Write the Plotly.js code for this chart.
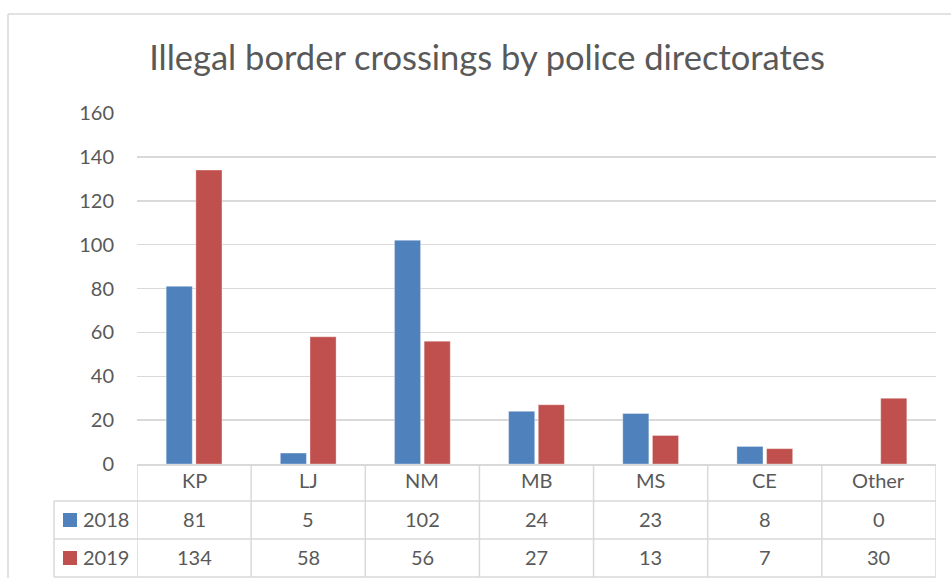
<!DOCTYPE html>
<html>
<head>
<meta charset="utf-8">
<script src="https://cdn.plot.ly/plotly-3.0.1.min.js"></script>
<style>html,body{margin:0;padding:0;background:#fff;}#chart{width:951px;height:578px;}</style>
</head>
<body>
<div id="chart"></div>
<script>
const categories = ["KP", "LJ", "NM", "MB", "MS", "CE", "Other"];
const seriesNames = ["2018", "2019"];
const values2018 = [81, 5, 102, 24, 23, 8, 0];
const values2019 = [134, 58, 56, 27, 13, 7, 30];
const yTicks = [0, 20, 40, 60, 80, 100, 120, 140, 160];

const W = 951, H = 578;
const L = 137, R = 936, T = 113, B = 464;
const pw = R - L, ph = B - T;
const colors = ["#4F81BD", "#C0504D"];
const grid = "#D9D9D9";
const txt = "#595959";
const FONT = "Lato, 'Open Sans', sans-serif";

const px2x = p => (p - L) / pw;        // paper x from pixel
const py2y = p => (B - p) / ph;        // paper y from pixel

const rowY = [464, 501, 539, 577];     // table row boundaries (pixels)
const tableLeft = 54;

const shapes = [];
// outer chart border (top & left)
shapes.push({type:'line', xref:'paper', yref:'paper', x0:px2x(8), x1:px2x(960), y0:py2y(14), y1:py2y(14), line:{color:grid, width:1.5}});
shapes.push({type:'line', xref:'paper', yref:'paper', x0:px2x(8), x1:px2x(8), y0:py2y(14), y1:py2y(590), line:{color:grid, width:1.5}});
// table horizontal lines
for (let i = 1; i < rowY.length; i++) {
  shapes.push({type:'line', xref:'paper', yref:'paper', x0:px2x(tableLeft), x1:1, y0:py2y(rowY[i]), y1:py2y(rowY[i]), line:{color:grid, width:1.5}});
}
// table vertical lines at category boundaries
for (let i = 0; i <= categories.length; i++) {
  shapes.push({type:'line', xref:'x', yref:'paper', x0:i - 0.5, x1:i - 0.5, y0:0, y1:py2y(rowY[3]), line:{color:grid, width:1.5}});
}
// left edge of series rows
shapes.push({type:'line', xref:'paper', yref:'paper', x0:px2x(tableLeft), x1:px2x(tableLeft), y0:py2y(rowY[1]), y1:py2y(rowY[3]), line:{color:grid, width:1.5}});

const annotations = [];
const allVals = [values2018, values2019];
for (let s = 0; s < 2; s++) {
  const yc = (rowY[s + 1] + rowY[s + 2]) / 2;
  // legend key square
  shapes.push({type:'rect', xref:'paper', yref:'paper', x0:px2x(63), x1:px2x(77), y0:py2y(yc - 7), y1:py2y(yc + 7), fillcolor:colors[s], line:{width:0}});
  annotations.push({xref:'paper', yref:'paper', x:px2x(81), y:py2y(yc - 1.5), xanchor:'left', yanchor:'middle', text:seriesNames[s], showarrow:false, font:{family:FONT, size:20, color:txt}});
  categories.forEach((c, i) => {
    annotations.push({xref:'x', yref:'paper', x:c, y:py2y(yc - 1.5), xanchor:'center', yanchor:'middle', text:String(allVals[s][i]), showarrow:false, font:{family:FONT, size:20, color:txt}});
  });
}
// category row labels
categories.forEach(c => {
  annotations.push({xref:'x', yref:'paper', x:c, y:py2y((rowY[0] + rowY[1]) / 2 - 3), xanchor:'center', yanchor:'middle', text:c, showarrow:false, font:{family:FONT, size:20, color:txt}});
});

const data = [
  {type:'bar', name:seriesNames[0], x:categories, y:values2018, marker:{color:colors[0], line:{color:'rgba(255,255,255,0.35)', width:1}}},
  {type:'bar', name:seriesNames[1], x:categories, y:values2019, marker:{color:colors[1], line:{color:'rgba(255,255,255,0.35)', width:1}}}
];

const layout = {
  width: W, height: H,
  margin: {l: L, r: W - R, t: T, b: H - B, pad: 0},
  paper_bgcolor: '#fff', plot_bgcolor: '#fff',
  showlegend: false,
  barmode: 'group', bargap: 0.48, bargroupgap: 0.12,
  title: {text: 'Illegal border crossings by police directorates', font: {family: FONT, size: 34.5, color: txt},
          xref: 'container', yref: 'container', x: 487 / W, xanchor: 'center', y: 1 - 58 / H, yanchor: 'middle'},
  xaxis: {range: [-0.5, categories.length - 0.5], showticklabels: false, showgrid: false, zeroline: false,
          showline: true, linecolor: grid, linewidth: 1.5, ticks: '', fixedrange: true},
  yaxis: {range: [0, 160], tickvals: yTicks, ticktext: yTicks.map(String), showgrid: true, gridcolor: grid, gridwidth: 1.5,
          zeroline: false, showline: false, ticks: '', ticklabelstandoff: 22,
          tickfont: {family: FONT, size: 20, color: txt}, fixedrange: true},
  shapes: shapes,
  annotations: annotations,
  font: {family: FONT, color: txt}
};

Plotly.newPlot('chart', data, layout, {displayModeBar: false, staticPlot: true});
</script>
</body>
</html>
